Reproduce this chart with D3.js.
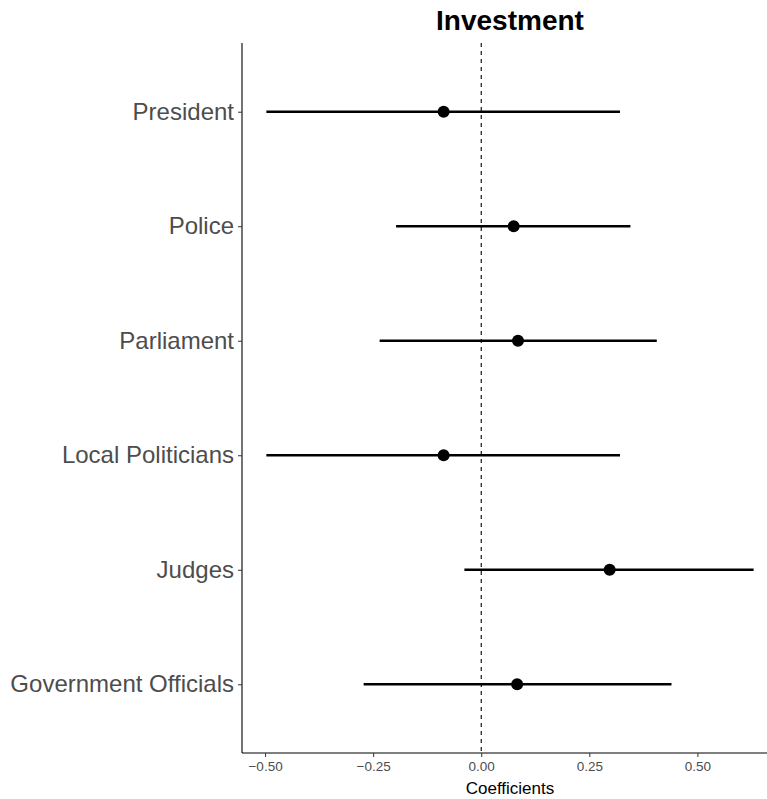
<!DOCTYPE html>
<html>
<head>
<meta charset="utf-8">
<script src="https://cdn.jsdelivr.net/npm/d3@7"></script>
<style>
  body { margin: 0; background: #fff; }
  svg { display: block; font-family: "Liberation Sans", Arial, sans-serif; }
</style>
</head>
<body>
<div id="canvas"></div>
<script>
// coefficient estimates with confidence bounds
let terms = ["President", "Police", "Parliament", "Local Politicians", "Judges", "Government Officials"];
let estimates = [-0.087, 0.075, 0.085, -0.087, 0.297, 0.083];
let lowers = [-0.497, -0.197, -0.235, -0.497, -0.039, -0.272];
let uppers = [0.321, 0.345, 0.406, 0.321, 0.630, 0.440];
let xTicks = [-0.5, -0.25, 0, 0.25, 0.5];

let data = terms.map((t, i) => ({ term: t, est: estimates[i], lo: lowers[i], hi: uppers[i] }));

let width = 767;
let height = 799;
let margin = { top: 43, bottom: 46, left: 242, right: -11 };

let lo = d3.min(lowers), hi = d3.max(uppers);
let pad = (hi - lo) * 0.05;

let escalaX = d3.scaleLinear()
  .domain([lo - pad, hi + pad])
  .range([margin.left, width - margin.right]);

let escalaY = d3.scalePoint()
  .domain(terms)
  .range([margin.top, height - margin.bottom])
  .padding(0.6);

let svg = d3.select("#canvas")
  .append("svg")
  .attr("width", width)
  .attr("height", height);

// zero reference line
svg.append("line")
  .attr("x1", escalaX(0)).attr("x2", escalaX(0))
  .attr("y1", margin.top).attr("y2", height - margin.bottom)
  .attr("stroke", "black")
  .attr("stroke-width", 1.1)
  .attr("stroke-dasharray", "4,4");

// intervals
svg.selectAll("line.ci")
  .data(data)
  .enter()
  .append("line")
  .attr("class", "ci")
  .attr("x1", d => escalaX(d.lo))
  .attr("x2", d => escalaX(d.hi))
  .attr("y1", d => escalaY(d.term))
  .attr("y2", d => escalaY(d.term))
  .attr("stroke", "black")
  .attr("stroke-width", 2.5);

svg.selectAll("circle")
  .data(data)
  .enter()
  .append("circle")
  .attr("cx", d => escalaX(d.est))
  .attr("cy", d => escalaY(d.term))
  .attr("r", 6)
  .attr("fill", "black");

// axes
let ejeX = d3.axisBottom(escalaX)
  .tickValues(xTicks)
  .tickSize(4)
  .tickPadding(4)
  .tickFormat(d => d3.format(".2f")(d));

let gx = svg.append("g")
  .attr("transform", "translate(0," + (height - margin.bottom) + ")")
  .call(ejeX);
gx.select(".domain").attr("d", "M" + margin.left + ",0H" + (width + 20)).attr("stroke", "black").attr("stroke-width", 1.1);
gx.selectAll(".tick line").attr("stroke", "#333");
gx.selectAll(".tick text").attr("fill", "#4d4d4d").attr("font-size", 13.5);

let ejeY = d3.axisLeft(escalaY)
  .tickSize(4)
  .tickPadding(4);

let gy = svg.append("g")
  .attr("transform", "translate(" + margin.left + ",0)")
  .call(ejeY);
gy.select(".domain").attr("d", "M0," + margin.top + "V" + (height - margin.bottom)).attr("stroke", "black").attr("stroke-width", 1.1);
gy.selectAll(".tick line").attr("stroke", "#333");
gy.selectAll(".tick text").attr("fill", "#4d4d4d").attr("font-size", 24);

// titles
svg.append("text")
  .attr("x", (margin.left + width - margin.right) / 2)
  .attr("y", 30)
  .attr("text-anchor", "middle")
  .attr("font-size", 28)
  .attr("font-weight", "bold")
  .text("Investment");

svg.append("text")
  .attr("x", (margin.left + width - margin.right) / 2)
  .attr("y", 794)
  .attr("text-anchor", "middle")
  .attr("font-size", 17)
  .text("Coefficients");
</script>
</body>
</html>
